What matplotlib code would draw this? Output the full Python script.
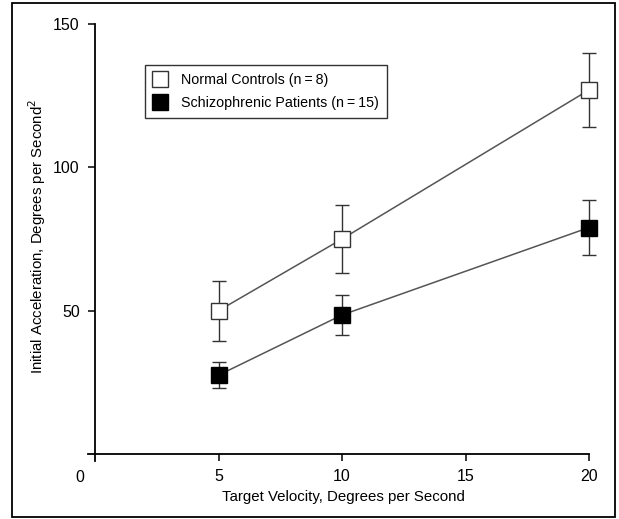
import matplotlib.pyplot as plt
from matplotlib.patches import Rectangle
from matplotlib.lines import Line2D

plt.rcParams['font.family'] = ['Liberation Sans Narrow', 'Liberation Sans', 'DejaVu Sans']

# velocidades del objetivo y aceleracion inicial
velocity = [5, 10, 20]
controls = [50, 75, 127]
controls_err = [10.5, 12, 13]
patients = [27.5, 48.5, 79]
patients_err = [4.5, 7, 9.5]
labels = ['Normal Controls (n\u2009=\u20098)', 'Schizophrenic Patients (n\u2009=\u200915)']

fig = plt.figure(figsize=(6.19, 5.19), dpi=100)
ax = fig.add_axes([87.6 / 619, 1 - 461.2 / 519, (589 - 87.6) / 619, (461.2 - 24) / 519])

ax.errorbar(velocity, controls, yerr=controls_err, color='#555555', lw=1.1,
            marker='s', ms=11, mfc='white', mec='#333333', mew=1.0,
            ecolor='#333333', elinewidth=1.0, capsize=5, capthick=1.0, zorder=3,
            clip_on=False)
ax.errorbar(velocity, patients, yerr=patients_err, color='#555555', lw=1.1,
            marker='s', ms=11, mfc='black', mec='black', mew=1.0,
            ecolor='#333333', elinewidth=1.0, capsize=5, capthick=1.0, zorder=3,
            clip_on=False)

ax.set_xlim(-0.3, 20)
ax.set_ylim(-2.5, 150)
ax.spines['left'].set_position(('data', 0))
ax.spines['bottom'].set_position(('data', 0))
ax.spines['top'].set_visible(False)
ax.spines['right'].set_visible(False)
for s in ['left', 'bottom']:
    ax.spines[s].set_linewidth(1.3)
ax.set_xticks([5, 10, 15, 20])
ax.set_yticks([50, 100, 150])
ax.tick_params(direction='out', length=5, width=1.1, labelsize=11.5, pad=6)
ax.text(-0.45, -5.5, '0', ha='right', va='top', fontsize=11.5)

fig.text(343 / 619, 1 - 497 / 519, 'Target Velocity, Degrees per Second',
         ha='center', va='center', fontsize=10.8)
fig.text(37 / 619, 1 - 236 / 519, 'Initial Acceleration, Degrees per Second$^2$',
         ha='center', va='center', rotation=90, fontsize=10.8)

handles = [Line2D([], [], ls='none', marker='s', ms=11, mfc='white', mec='#333333', mew=1.0),
           Line2D([], [], ls='none', marker='s', ms=11, mfc='black', mec='black', mew=1.0)]
leg = ax.legend(handles, labels, loc='upper left',
                bbox_to_anchor=((145 - 87.6) / 501.4, 1 - (65 - 24) / 437.2),
                borderaxespad=0, fontsize=10.3, frameon=True, fancybox=False,
                edgecolor='black', handlelength=1.0, handletextpad=1.0,
                borderpad=0.55, labelspacing=0.65)
leg.get_frame().set_linewidth(1.0)

fig.patches.append(Rectangle((12 / 619, 1 - 517 / 519), (615 - 12) / 619, (517 - 3) / 519,
                             transform=fig.transFigure, fill=False, ec='black', lw=1.3))

fig.savefig('out.png', dpi=100)
